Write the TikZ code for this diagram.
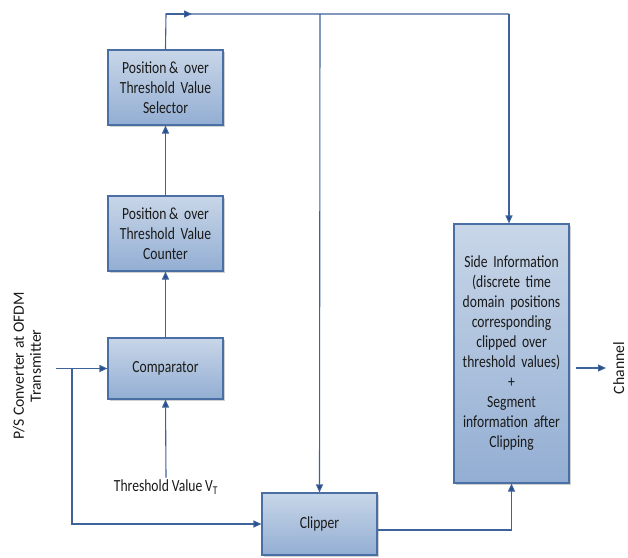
\documentclass[tikz,border=0pt]{standalone}
\usepackage{fontspec}
\setmainfont{Carlito}
\newfontfamily\boxfont[FakeStretch=0.8]{Carlito}
\usetikzlibrary{arrows.meta,calc,shadows}
\definecolor{boxtop}{HTML}{C8D6E8}
\definecolor{boxbot}{HTML}{93AED3}
\definecolor{boxline}{HTML}{4A6FA5}
\definecolor{wirec}{HTML}{3E629A}
\definecolor{tipc}{HTML}{1F4E8C}
\definecolor{txt}{HTML}{1A1A1A}
% condensed face with a matching narrow word space
\newcommand{\blockfont}{\boxfont\fontsize{17}{20}\selectfont\spaceskip=2.9pt plus 1pt\relax}

\begin{document}
\begin{tikzpicture}[x=1pt,y=-1pt,
  blk/.style={draw=boxline, line width=1.1pt, top color=boxtop, bottom color=boxbot,
    minimum width=115pt, inner sep=0pt, align=center, text width=111pt, text=txt,
    font=\blockfont,
    drop shadow={shadow xshift=1.5pt, shadow yshift=-1.5pt, fill=black, opacity=0.18}},
  lbl/.style={inner sep=2pt, align=center, text=txt, font=\blockfont},
  side/.style={inner sep=2pt, align=center, rotate=90, text=txt, font=\fontsize{15.7}{17}\selectfont},
  wire/.style={draw=wirec, line width=1.1pt},
  arr/.style={wire, -{Triangle[length=8pt,width=7pt,fill=tipc]}}]

\useasboundingbox (0,0) rectangle (628,557);

% blocks
\node[blk, minimum height=75pt] (sel) at (165.5,87.5) {Position\,\& over\\Threshold Value\\Selector};
\node[blk, minimum height=75pt] (cnt) at (165.5,233.5) {Position\,\& over\\Threshold Value\\Counter};
\node[blk, minimum height=61pt] (cmp) at (165.5,368.5) {Comparator};
\node[blk, minimum height=62pt] (clip) at (319.5,524) {Clipper};
\node[blk, minimum height=259pt] (sinfo) at (511.5,353.5) {Side Information\\(discrete time\\domain positions\\corresponding\\clipped over\\threshold values)\\+\\Segment\\information after\\Clipping};

% labels
\node[lbl] (vt) at (166,487) {Threshold Value V\textsubscript{T}};
\node[side] (ps) at (27,366) {P/S Converter at OFDM\\Transmitter};
\node[side, anchor=north, inner sep=7pt] (ch) at (606,368) {Channel};

% junction points
\coordinate (tl) at (166,14);
\coordinate (ta) at (192,14);
\coordinate (tm) at (320,14);
\coordinate (tr) at (509,14);
\coordinate (in) at (56,368.5);
\coordinate (br) at (72,368.5);
\coordinate (so) at (576,368);

% connectors
\draw[arr] (cnt.north) -- (sel.south);
\draw[arr] (cmp.north) -- (cnt.south);
\draw[arr] (vt.north) -- (cmp.south);
\draw[wire] (sel.north) -- (tl) -- (tr);
\draw[arr] (tl) -- (ta);
\draw[arr] (tm) -- (clip.north);
\draw[arr] (tr) -- (tr |- sinfo.north);
\draw[arr] (in) -- (cmp.west);
\draw[arr] (br) |- (clip.west);
\draw[arr] ($(clip.east)+(0,6)$) -| (sinfo.south);
\draw[arr] (so) -- (ch.north);
\end{tikzpicture}
\end{document}
